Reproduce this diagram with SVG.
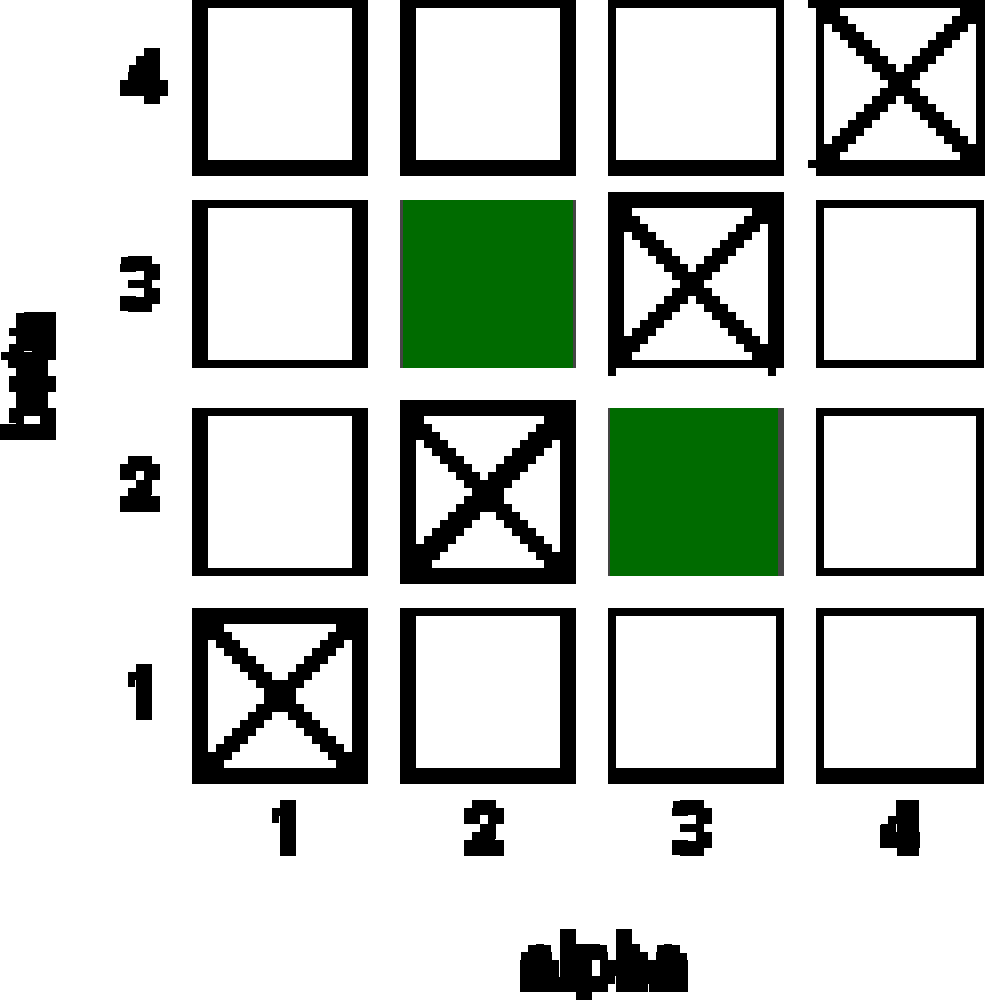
<svg xmlns="http://www.w3.org/2000/svg" width="985" height="1002" viewBox="0 0 985 1002">
<style>
.bg{fill:#fff}
.k{fill:#000}
.w{fill:#fff}
.gr{fill:#006b00}
.ed{fill:#444}
rect,path{shape-rendering:crispEdges}
.lab{font-family:"Liberation Sans",Arial,sans-serif;font-weight:700;fill:#000;stroke:#000;stroke-width:7}
.n{font-family:Roboto,"Liberation Sans",sans-serif;font-size:72px;text-anchor:middle;stroke-width:5}
</style>
<defs>
<filter id="px" filterUnits="userSpaceOnUse" x="0" y="0" width="985" height="1002" color-interpolation-filters="sRGB">
<feFlood x="3" y="3" width="2" height="2" flood-color="#000"/>
<feComposite x="0" y="0" width="8" height="8"/>
<feTile result="t"/>
<feComposite in="SourceGraphic" in2="t" operator="in"/>
<feComponentTransfer><feFuncA type="discrete" tableValues="0 1 1 1"/></feComponentTransfer>
<feMorphology operator="dilate" radius="3"/>
</filter>
</defs>
<rect class="bg" width="985" height="1002"/>
<g id="cell-1-4"><rect class="k" x="192" y="0" width="176" height="176"/><rect class="w" x="208" y="8" width="144" height="152"/></g>
<g id="cell-2-4"><rect class="k" x="400" y="0" width="176" height="176"/><rect class="w" x="416" y="8" width="144" height="152"/></g>
<g id="cell-3-4"><rect class="k" x="608" y="0" width="176" height="176"/><rect class="w" x="616" y="8" width="160" height="152"/></g>
<g id="cell-4-4"><path class="k" d="M808 0H985V176H816V168H808V160H816V8H808z"/>
<path class="w" d="M840 8H960 v8h-8 v8h-8 v8h-8 v8h-8 v8h-8 v8h-8 v8h-8 v8 H896 v-8h-8 v-8h-8 v-8h-8 v-8h-8 v-8h-8 v-8h-8 v-8h-8 z
M824 24h8 v8h8 v8h8 v8h8 v8h8 v8h8 v8h8 v8h8 v8 h-8v8 h-8v8 h-8v8 h-8v8 h-8v8 h-8v8 h-8v8 H824z
M976 24H968 v8h-8 v8h-8 v8h-8 v8h-8 v8h-8 v8h-8 v8h-8 v8 h8v8 h8v8 h8v8 h8v8 h8v8 h8v8 h8v8 H976z
M896 96h8 v8h8 v8h8 v8h8 v8h8 v8h8 v8h8 v8h8 v8 H840 v-8 h8v-8 h8v-8 h8v-8 h8v-8 h8v-8 h8v-8 h8v-8 z"/></g>
<g id="cell-1-3"><rect class="k" x="192" y="200" width="176" height="168"/><rect class="w" x="208" y="208" width="144" height="152"/></g>
<g id="cell-2-3"><rect class="ed" x="400" y="200" width="176" height="168"/><rect class="gr" x="403" y="200" width="170" height="168"/></g>
<g id="cell-3-3"><path class="k" d="M608 192H784V368H776V376H768V368H616V376H608z"/>
<path class="w" d="M632 208H752 v8h-8 v8h-8 v8h-8 v8h-8 v8h-8 v8h-8 v8h-8 v8 H688 v-8h-8 v-8h-8 v-8h-8 v-8h-8 v-8h-8 v-8h-8 v-8h-8 z
M624 232h8 v8h8 v8h8 v8h8 v8h8 v8h8 v8h8 v8 h-8v8 h-8v8 h-8v8 h-8v8 h-8v8 h-8v8 H624z
M768 224H760 v8h-8 v8h-8 v8h-8 v8h-8 v8h-8 v8h-8 v8h-8 v8 h8v8 h8v8 h8v8 h8v8 h8v8 h8v8 h8v8 H768z
M688 296h8 v8h8 v8h8 v8h8 v8h8 v8h8 v8h8 v8h8 v8 H632 v-8 h8v-8 h8v-8 h8v-8 h8v-8 h8v-8 h8v-8 h8v-8 z"/></g>
<g id="cell-4-3"><rect class="k" x="816" y="200" width="168" height="168"/><rect class="w" x="824" y="208" width="152" height="152"/></g>
<g id="cell-1-2"><rect class="k" x="192" y="408" width="176" height="168"/><rect class="w" x="208" y="416" width="144" height="152"/></g>
<g id="cell-2-2"><rect class="k" x="400" y="400" width="176" height="184"/>
<path class="w" d="M424 416H544 v8h-8 v8h-8 v8h-8 v8h-8 v8h-8 v8h-8 v8h-8 v8 H480 v-8h-8 v-8h-8 v-8h-8 v-8h-8 v-8h-8 v-8h-8 v-8h-8 z
M416 440h8 v8h8 v8h8 v8h8 v8h8 v8h8 v8h8 v8 h-8v8 h-8v8 h-8v8 h-8v8 h-8v8 h-8v8 H416z
M560 440H552 v8h-8 v8h-8 v8h-8 v8h-8 v8h-8 v8h-8 v16 h8v8 h8v8 h8v8 h8v8 h8v8 h8v8 H560z
M480 512h16 v8h8 v8h8 v8h8 v8h8 v8h8 v8h8 v8 H432 v-8 h8v-8 h8v-8 h8v-8 h8v-8 h8v-8 h8v-8 z"/></g>
<g id="cell-3-2"><rect class="ed" x="608" y="408" width="176" height="168"/><rect class="gr" x="610" y="408" width="168" height="168"/></g>
<g id="cell-4-2"><rect class="k" x="816" y="408" width="168" height="168"/><rect class="w" x="824" y="416" width="152" height="152"/></g>
<g id="cell-1-1"><rect class="k" x="192" y="608" width="176" height="176"/>
<path class="w" d="M224 624H336 v8h-8 v8h-8 v8h-8 v8h-8 v8h-8 v8h-8 v8 H272 v-8h-8 v-8h-8 v-8h-8 v-8h-8 v-8h-8 v-8h-8 z
M208 640h8 v8h8 v8h8 v8h8 v8h8 v8h8 v8h8 v16 h-8v8 h-8v8 h-8v8 h-8v8 h-8v8 h-8v8 H208z
M352 640H344 v8h-8 v8h-8 v8h-8 v8h-8 v8h-8 v8h-8 v16 h8v8 h8v8 h8v8 h8v8 h8v8 h8v8 H352z
M272 712h16 v8h8 v8h8 v8h8 v8h8 v8h8 v8h8 v8 H224 v-8 h8v-8 h8v-8 h8v-8 h8v-8 h8v-8 h8v-8 z"/></g>
<g id="cell-2-1"><rect class="k" x="400" y="608" width="176" height="176"/><rect class="w" x="416" y="616" width="144" height="152"/></g>
<g id="cell-3-1"><rect class="k" x="608" y="608" width="176" height="176"/><rect class="w" x="616" y="616" width="160" height="152"/></g>
<g id="cell-4-1"><rect class="k" x="816" y="608" width="168" height="176"/><rect class="w" x="824" y="616" width="152" height="152"/></g>
<g id="labels" filter="url(#px)">
<text class="lab n" x="144" y="102">4</text>
<text class="lab n" x="140" y="310">3</text>
<text class="lab n" x="140" y="510">2</text>
<text class="lab n" x="143" y="718">1</text>
<text class="lab n" x="287" y="854">1</text>
<text class="lab n" x="484" y="854">2</text>
<text class="lab n" x="692" y="854">3</text>
<text class="lab n" x="900" y="854">4</text>
<text class="lab" x="522" y="990" font-size="74" textLength="164" lengthAdjust="spacingAndGlyphs">alpha</text>
<text class="lab" transform="translate(50 438) rotate(-90)" font-size="64" textLength="124" lengthAdjust="spacingAndGlyphs">beta</text>
</g>
</svg>
